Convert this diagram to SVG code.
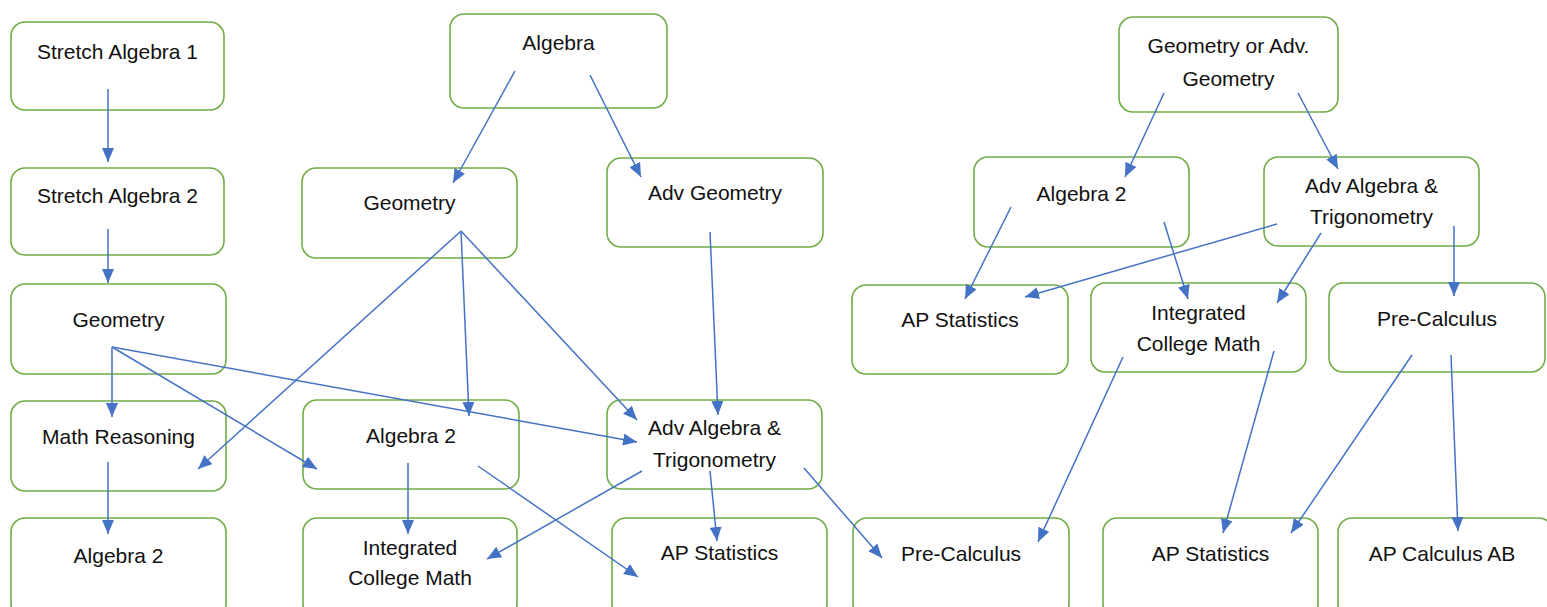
<svg xmlns="http://www.w3.org/2000/svg" width="1547" height="607" viewBox="0 0 1547 607">
<style>
.box{fill:#fff;stroke:#70AD47;stroke-width:1.6}
.t{font-family:"Liberation Sans",Arial,sans-serif;font-size:21px;fill:#111;text-anchor:middle}
.c line{stroke:#4472C4;stroke-width:1.5;marker-end:url(#ah)}
</style>
<defs>
<marker id="ah" markerUnits="userSpaceOnUse" markerWidth="14" markerHeight="12" viewBox="0 0 14 12" refX="14" refY="6" orient="auto">
<path d="M0,0 L14,6 L0,12 z" fill="#4472C4"/>
</marker>
</defs>
<rect width="1547" height="607" fill="#fff"/>
<g id="n1"><rect class="box" x="11" y="22" width="213" height="88" rx="14"/><text class="t" x="117.5" y="59">Stretch Algebra 1</text></g>
<g id="n2"><rect class="box" x="11" y="168" width="213" height="87" rx="14"/><text class="t" x="117.5" y="203">Stretch Algebra 2</text></g>
<g id="n3"><rect class="box" x="11" y="284" width="215" height="90" rx="14"/><text class="t" x="118.5" y="327">Geometry</text></g>
<g id="n4"><rect class="box" x="11" y="401" width="215" height="90" rx="14"/><text class="t" x="118.5" y="444">Math Reasoning</text></g>
<g id="n5"><rect class="box" x="11" y="518" width="215" height="100" rx="14"/><text class="t" x="118.5" y="563">Algebra 2</text></g>
<g id="n6"><rect class="box" x="450" y="14" width="217" height="94" rx="14"/><text class="t" x="558.5" y="50">Algebra</text></g>
<g id="n7"><rect class="box" x="302" y="168" width="215" height="90" rx="14"/><text class="t" x="409.5" y="210">Geometry</text></g>
<g id="n8"><rect class="box" x="303" y="400" width="216" height="89" rx="14"/><text class="t" x="411" y="443">Algebra 2</text></g>
<g id="n9"><rect class="box" x="303" y="518" width="214" height="100" rx="14"/><text class="t" x="410" y="555">Integrated</text><text class="t" x="410" y="585">College Math</text></g>
<g id="n10"><rect class="box" x="607" y="158" width="216" height="89" rx="14"/><text class="t" x="715" y="200">Adv Geometry</text></g>
<g id="n11"><rect class="box" x="607" y="400" width="215" height="89" rx="14"/><text class="t" x="714.5" y="435">Adv Algebra &amp;</text><text class="t" x="714.5" y="467">Trigonometry</text></g>
<g id="n12"><rect class="box" x="612" y="518" width="215" height="100" rx="14"/><text class="t" x="719.5" y="560">AP Statistics</text></g>
<g id="n13"><rect class="box" x="853" y="518" width="216" height="100" rx="14"/><text class="t" x="961" y="561">Pre-Calculus</text></g>
<g id="n14"><rect class="box" x="1119" y="17" width="219" height="95" rx="14"/><text class="t" x="1228.5" y="53">Geometry or Adv.</text><text class="t" x="1228.5" y="86">Geometry</text></g>
<g id="n15"><rect class="box" x="974" y="157" width="215" height="90" rx="14"/><text class="t" x="1081.5" y="201">Algebra 2</text></g>
<g id="n16"><rect class="box" x="1264" y="157" width="215" height="89" rx="14"/><text class="t" x="1371.5" y="193">Adv Algebra &amp;</text><text class="t" x="1371.5" y="224">Trigonometry</text></g>
<g id="n17"><rect class="box" x="852" y="285" width="216" height="89" rx="14"/><text class="t" x="960" y="327">AP Statistics</text></g>
<g id="n18"><rect class="box" x="1091" y="283" width="215" height="89" rx="14"/><text class="t" x="1198.5" y="320">Integrated</text><text class="t" x="1198.5" y="351">College Math</text></g>
<g id="n19"><rect class="box" x="1329" y="283" width="216" height="89" rx="14"/><text class="t" x="1437" y="326">Pre-Calculus</text></g>
<g id="n20"><rect class="box" x="1103" y="518" width="215" height="100" rx="14"/><text class="t" x="1210.5" y="561">AP Statistics</text></g>
<g id="n21"><rect class="box" x="1338" y="518" width="215" height="100" rx="14"/><text class="t" x="1442" y="561">AP Calculus AB</text></g>
<g id="connectors" class="c">
<line x1="108" y1="89" x2="108" y2="162"/>
<line x1="108" y1="229" x2="108" y2="283"/>
<line x1="112" y1="347" x2="112" y2="417"/>
<line x1="112" y1="347" x2="317" y2="469"/>
<line x1="112" y1="347" x2="637" y2="442"/>
<line x1="108" y1="462" x2="108" y2="534"/>
<line x1="515" y1="71" x2="453" y2="183"/>
<line x1="590" y1="75" x2="641" y2="177"/>
<line x1="461" y1="231" x2="198" y2="469"/>
<line x1="461" y1="231" x2="469" y2="416"/>
<line x1="461" y1="231" x2="637" y2="420"/>
<line x1="710" y1="232" x2="718" y2="415"/>
<line x1="408" y1="463" x2="408" y2="534"/>
<line x1="478" y1="466" x2="638" y2="577"/>
<line x1="642" y1="471" x2="487" y2="559"/>
<line x1="710" y1="471" x2="717" y2="541"/>
<line x1="804" y1="468" x2="882" y2="558"/>
<line x1="1164" y1="93" x2="1125" y2="177"/>
<line x1="1298" y1="93" x2="1338" y2="169"/>
<line x1="1011" y1="207" x2="965" y2="299"/>
<line x1="1164" y1="222" x2="1188" y2="299"/>
<line x1="1277" y1="224" x2="1025" y2="297"/>
<line x1="1321" y1="233" x2="1277" y2="303"/>
<line x1="1454" y1="226" x2="1454" y2="296"/>
<line x1="1123" y1="357" x2="1038" y2="542"/>
<line x1="1274" y1="351" x2="1223" y2="533"/>
<line x1="1412" y1="355" x2="1291" y2="533"/>
<line x1="1451" y1="355" x2="1458" y2="531"/>
</g>
</svg>
